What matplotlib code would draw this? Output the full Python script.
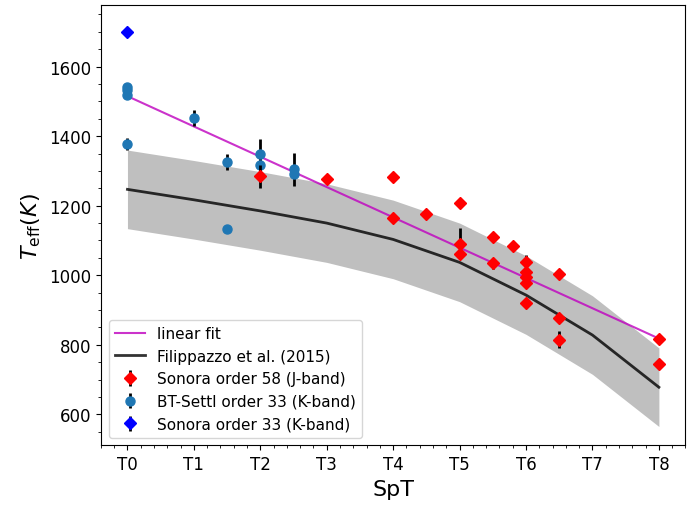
import numpy as np
import matplotlib
matplotlib.use('Agg')
from matplotlib import pyplot as plt
from matplotlib.ticker import AutoMinorLocator

# Filippazzo et al. (2015) relation, evaluated at integer T types
fil_spt = [0, 1, 2, 3, 4, 5, 6, 7, 8]
fil_teff = [1247, 1217, 1185, 1150, 1103, 1037, 943, 828, 678]
fil_rms = 113

# Sonora order 58 (J-band)
j_spt = [2, 3, 4, 4, 4.5, 5, 5, 5, 5.5, 5.5, 5.8, 6, 6, 6, 6, 6, 6.5, 6.5, 6.5, 8, 8]
j_teff = [1285, 1278, 1284, 1165, 1177, 1209, 1091, 1062, 1111, 1034, 1084,
          1037, 1008, 994, 979, 919, 1005, 876, 815, 817, 744]
j_err = [33, 12, 0, 10, 0, 0, 45, 0, 0, 15, 0, 20, 0, 0, 0, 0, 0, 0, 25, 0, 0]

# BT-Settl order 33 (K-band)
k_spt = [0, 0, 0, 0, 1, 1.5, 1.5, 2, 2, 2.5, 2.5]
k_teff = [1540, 1533, 1518, 1378, 1453, 1327, 1134, 1349, 1318, 1305, 1290]
k_err = [0, 0, 0, 18, 23, 23, 0, 43, 0, 47, 0]

# Sonora order 33 (K-band)
s33_spt = [0]
s33_teff = [1700]
s33_err = [0]

# linear fit end points
fit_spt = [0, 8]
fit_teff = [1515, 818]

tick_pos = [0, 1, 2, 3, 4, 5, 6, 7, 8]
tick_lab = ['T0', 'T1', 'T2', 'T3', 'T4', 'T5', 'T6', 'T7', 'T8']


def main():
    fig = plt.figure(figsize=(6.91, 5.06), dpi=100)
    ax = fig.add_axes([0.146, 0.118, 0.846, 0.870])

    lo = np.array(fil_teff) - fil_rms
    hi = np.array(fil_teff) + fil_rms
    ax.fill_between(fil_spt, lo, hi, color='gray', alpha=0.5, lw=0)
    ax.plot(fit_spt, fit_teff, color='m', alpha=0.8, lw=1.5, label='linear fit')
    ax.plot(fil_spt, fil_teff, color='k', alpha=0.8, lw=2,
            label='Filippazzo et al. (2015)')

    ax.errorbar(j_spt, j_teff, yerr=j_err, fmt='D', color='red', ecolor='k',
                elinewidth=2, ms=6.5, zorder=4, label='Sonora order 58 (J-band)')
    ax.errorbar(k_spt, k_teff, yerr=k_err, fmt='o', color='tab:blue', ecolor='k',
                elinewidth=2, ms=6.5, zorder=3, label='BT-Settl order 33 (K-band)')
    ax.errorbar(s33_spt, s33_teff, yerr=s33_err, fmt='D', color='blue', ecolor='k',
                elinewidth=2, ms=6.5, zorder=4, label='Sonora order 33 (K-band)')

    ax.set_xlim(-0.4, 8.4)
    ax.set_ylim(511, 1777)
    ax.set_xticks(tick_pos)
    ax.set_xticklabels(tick_lab)
    ax.xaxis.set_minor_locator(AutoMinorLocator())
    ax.yaxis.set_minor_locator(AutoMinorLocator())
    ax.tick_params(labelsize=12)
    ax.set_xlabel('SpT', fontsize=16)
    ax.set_ylabel(r'$T_{\rm eff}(K)$', fontsize=16)
    ax.legend(loc='lower left', fontsize=11)

    fig.savefig('out.png', dpi=100)


if __name__ == '__main__':
    main()
